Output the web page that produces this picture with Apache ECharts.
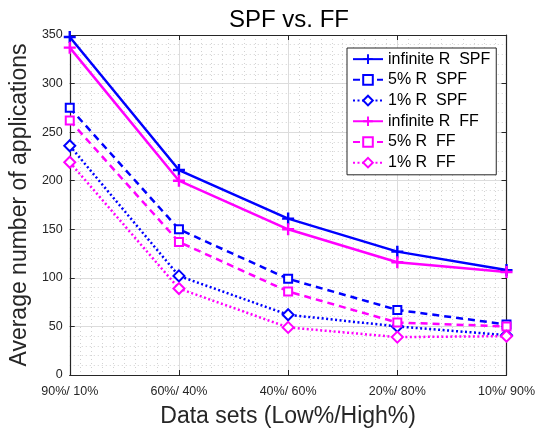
<!DOCTYPE html>
<html>
<head>
<meta charset="utf-8">
<script src="https://cdn.jsdelivr.net/npm/echarts@6/dist/echarts.min.js"></script>
<style>
html,body{margin:0;padding:0;background:#fff;}
#c{width:538px;height:433px;}
</style>
</head>
<body>
<div id="c"></div>
<script>
const categories = ['90%/ 10%', '60%/ 40%', '40%/ 60%', '20%/ 80%', '10%/ 90%'];
const infSPF = [348, 211, 161, 127, 108];
const pct5SPF = [275, 150, 99, 67, 52];
const pct1SPF = [236, 102, 62, 50, 41];
const infFF = [337, 200, 150, 116, 106];
const pct5FF = [262, 137, 86, 54, 50];
const pct1FF = [219, 89, 49, 39, 40];
const yTicks = [0, 50, 100, 150, 200, 250, 300, 350];

const BLUE = '#0000ff', MAG = '#ff00ff';
const PLUS = 'path://M4,0H6V4H10V6H6V10H4V6H0V4H4Z';
const FONT = 'Liberation Sans, Arial, sans-serif';
const AX = '#262626';

function pts(arr){ return arr.map((v,i)=>[i,v]); }
function mk(name, data, color, type, symbol, size){
  return {
    name, type:'line', data: pts(data),
    symbol, symbolSize: size,
    showSymbol: true,
    lineStyle: {color, width: 2.5, type},
    itemStyle: {color: symbol===PLUS ? color : '#fff', borderColor: color, borderWidth: symbol===PLUS?0:2},
    emphasis: {disabled:true},
    animation: false
  };
}

const chart = echarts.init(document.getElementById('c'), null, {renderer:'canvas'});
const xCommon = {
  type:'value', min:0, max:categories.length-1, interval:1,
  axisLine:{show:true, onZero:false, lineStyle:{color:AX, width:1.2}},
  axisTick:{show:true, inside:true, length:5, lineStyle:{color:AX}},
};
const yCommon = {
  type:'value', min:yTicks[0], max:yTicks[yTicks.length-1], interval:yTicks[1]-yTicks[0],
  axisLine:{show:true, onZero:false, lineStyle:{color:AX, width:1.2}},
  axisTick:{show:true, inside:true, length:5, lineStyle:{color:AX}},
};
chart.setOption({
  backgroundColor:'#fff',
  animation:false,
  title:{text:'SPF vs. FF', left:224, top:3,
    textStyle:{fontFamily:FONT, fontSize:24, fontWeight:'normal', color:'#000'}},
  grid:{left:63, right:29, top:35, bottom:55, containLabel:false},
  legend:{
    orient:'vertical', left:347, top:48,
    backgroundColor:'#fff', borderColor:AX, borderWidth:1,
    padding:[3,6,4,5], itemGap:4.4, itemWidth:30, itemHeight:12,
    textStyle:{fontFamily:FONT, fontSize:16, color:'#000', lineHeight:16.3},
    data:['infinite R  SPF','5% R  SPF','1% R  SPF','infinite R  FF','5% R  FF','1% R  FF']
  },
  xAxis:[
    Object.assign({}, xCommon, {
      position:'bottom',
      name:'Data sets (Low%/High%)', nameLocation:'middle', nameGap:30,
      nameTextStyle:{fontFamily:FONT, fontSize:23, color:AX},
      axisLabel:{fontFamily:FONT, fontSize:12.5, color:AX, margin:10,
        formatter:(v)=>categories[Math.round(v)]},
      splitLine:{show:true, lineStyle:{color:'#dcdcdc', width:1}},
      minorTick:{show:false, splitNumber:10},
      minorSplitLine:{show:true, lineStyle:{color:'#d2d2d2', width:1, type:[1,3]}}
    }),
    Object.assign({}, xCommon, {position:'top', axisLabel:{show:false}, splitLine:{show:false}})
  ],
  yAxis:[
    Object.assign({}, yCommon, {
      position:'left',
      name:'Average number of applications', nameLocation:'middle', nameGap:27,
      nameTextStyle:{fontFamily:FONT, fontSize:23, color:AX},
      axisLabel:{fontFamily:FONT, fontSize:12.5, color:AX, margin:7},
      splitLine:{show:true, lineStyle:{color:'#dcdcdc', width:1}},
      minorTick:{show:false, splitNumber:5},
      minorSplitLine:{show:true, lineStyle:{color:'#d2d2d2', width:1, type:[1,3]}}
    }),
    Object.assign({}, yCommon, {position:'right', axisLabel:{show:false}, splitLine:{show:false}})
  ],
  series:[
    mk('infinite R  SPF', infSPF, BLUE, 'solid', PLUS, 12),
    mk('5% R  SPF', pct5SPF, BLUE, [7,5], 'rect', 8),
    mk('1% R  SPF', pct1SPF, BLUE, [2,2.5], 'diamond', 11),
    mk('infinite R  FF', infFF, MAG, 'solid', PLUS, 12),
    mk('5% R  FF', pct5FF, MAG, [7,5], 'rect', 8),
    mk('1% R  FF', pct1FF, MAG, [2,2.5], 'diamond', 11)
  ]
});
</script>
</body>
</html>
